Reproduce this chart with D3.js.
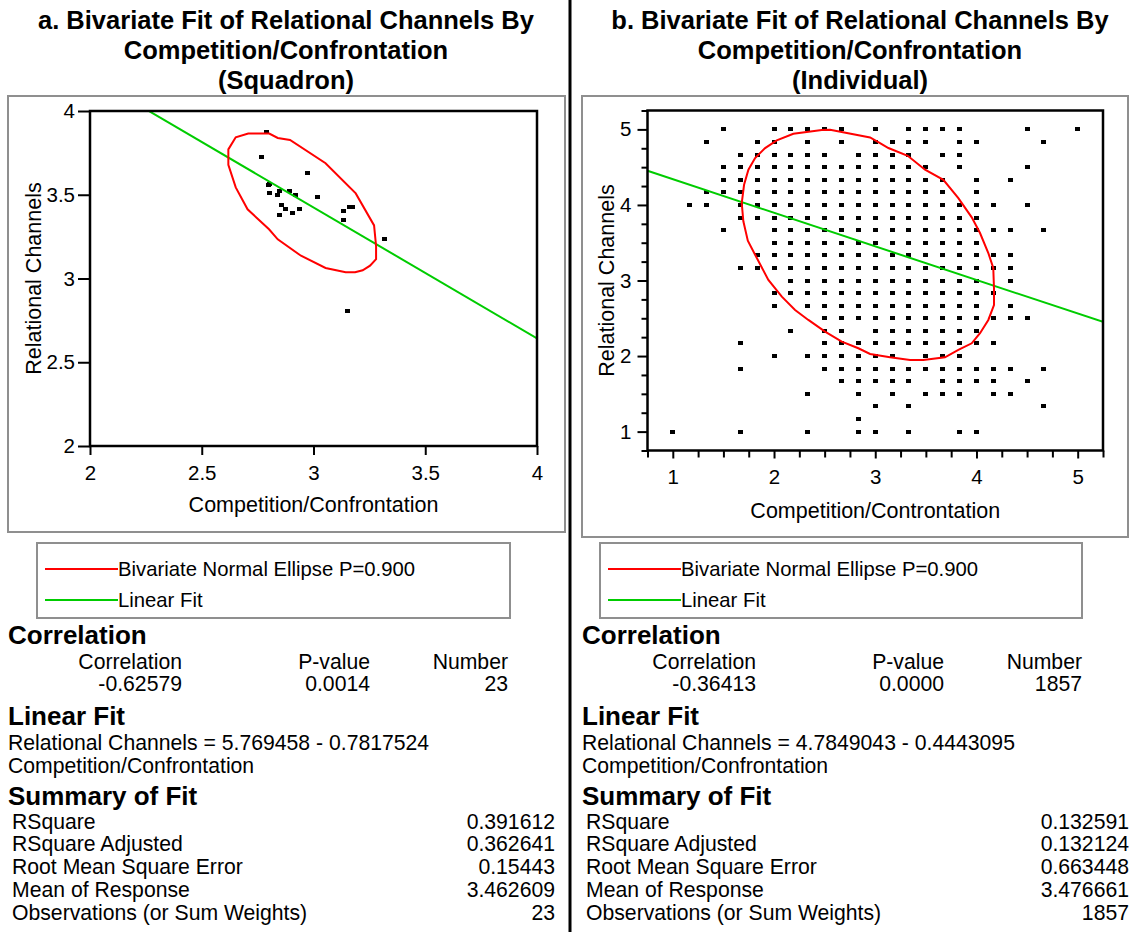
<!DOCTYPE html>
<html><head><meta charset="utf-8">
<script src="https://cdn.jsdelivr.net/npm/d3@7"></script>
<style>
body{margin:0;background:#fff;}
svg text{font-family:"Liberation Sans",Arial,Helvetica,sans-serif;fill:#000;}
</style></head><body>
<svg id="c" width="1130" height="932"></svg>
<script>
// ---------------- DATA ----------------
// Panel a (Squadron): 23 observations
const squadX = [2.79,2.768,2.974,2.802,2.805,2.850,2.840,2.893,2.920,3.018,2.857,2.875,2.938,2.849,2.904,3.135,3.160,3.175,3.135,3.318,3.153,2.80,2.85];
const squadY = [3.873,3.727,3.632,3.564,3.512,3.522,3.500,3.524,3.500,3.488,3.441,3.417,3.417,3.381,3.393,3.405,3.429,3.429,3.351,3.238,2.808,3.56,3.52];
// Bivariate normal ellipse (P=0.900) outline
const squadEllipse = [[2.619,3.771],[2.652,3.843],[2.708,3.865],[2.802,3.865],[2.840,3.839],[2.895,3.827],[3.054,3.688],[3.189,3.508],[3.271,3.317],[3.280,3.194],[3.280,3.116],[3.253,3.077],[3.220,3.049],[3.186,3.037],[3.144,3.037],[3.054,3.063],[2.944,3.136],[2.840,3.234],[2.801,3.294],[2.705,3.413],[2.652,3.544],[2.619,3.678]];
const squadFit = [5.769458, -0.7817524]; // intercept, slope

// Panel b (Individual): responses lie on a grid of sixths; each row = [y in sixths, x values in sixths]
const indivRows = [
  [30,[9,12,13,14,15,16,18,20,21,22,23,27,30]],
  [29,[8,11,12,14,16,18,19,20,21,23,24,28]],
  [28,[10,11,12,13,14,15,17,18,19,20,22,23]],
  [27,[9,10,11,12,13,14,15,16,17,18,19,20,21,23,27]],
  [26,[9,10,11,12,13,14,15,16,17,18,19,20,21,22,24,26]],
  [25,[8,9,10,11,12,13,14,15,16,17,18,19,20,21,22,24]],
  [24,[7,8,10,11,12,13,14,15,16,17,18,19,20,21,22,23,24,25,27]],
  [23,[10,11,12,13,14,15,16,17,18,19,20,21,22,23,24]],
  [22,[9,12,13,14,15,16,17,18,19,20,21,22,23,24,25,26,28]],
  [21,[12,13,14,15,16,17,18,19,20,21,22,23,24]],
  [20,[11,12,13,14,15,16,17,18,19,20,21,22,23,24,25,26]],
  [19,[10,11,12,13,14,15,16,17,18,19,20,21,22,23,24,25,26]],
  [18,[13,14,15,16,17,18,19,20,21,22,23,24,26]],
  [17,[12,13,14,15,16,17,18,19,20,21,22,23,24,25]],
  [16,[12,14,15,16,17,18,19,20,21,22,23,24,26]],
  [15,[15,16,17,18,19,20,21,22,23,24,25,26,27]],
  [14,[13,15,16,18,19,20,21,22,23,24]],
  [13,[10,15,16,17,18,19,20,21,22,23,24,25]],
  [12,[12,14,15,16,17,18,19,21,22,23]],
  [11,[10,15,16,17,18,19,20,21,22,23,24,25,26,28]],
  [10,[16,17,18,19,20,22,23,24,25,27]],
  [9,[14,17,19,21,22,23,25,26]],
  [8,[18,20,28]],
  [7,[17]],
  [6,[6,10,14,17,18,20,23,24]]
];
const indivEllipse = [[1.681,4.025],[1.704,4.267],[1.747,4.466],[1.813,4.620],[1.912,4.753],[2.027,4.854],[2.191,4.942],[2.472,4.991],[2.554,4.995],[2.949,4.894],[3.047,4.819],[3.130,4.753],[3.321,4.651],[3.492,4.466],[3.673,4.333],[3.821,4.091],[3.953,3.836],[4.035,3.628],[4.117,3.364],[4.166,3.165],[4.173,2.901],[4.173,2.676],[4.117,2.478],[4.035,2.302],[3.953,2.169],[3.821,2.081],[3.689,1.984],[3.475,1.948],[3.344,1.948],[3.146,1.984],[2.949,2.028],[2.833,2.103],[2.669,2.190],[2.504,2.323],[2.339,2.478],[2.208,2.610],[2.077,2.786],[1.944,3.007],[1.813,3.341],[1.741,3.526],[1.697,3.783]];
const indivFit = [4.7849043, -0.4443095];

// Axis ticks
const squadTicks = [2, 2.5, 3, 3.5, 4];
const indivMajorTicks = [1, 2, 3, 4, 5];
const indivMinorTicks = [0.75,1.25,1.5,1.75,2.25,2.5,2.75,3.25,3.5,3.75,4.25,4.5,4.75,5.25];

// Text content
const titlesA = ["a. Bivariate Fit of Relational Channels By","Competition/Confrontation","(Squadron)"];
const titlesB = ["b. Bivariate Fit of Relational Channels By","Competition/Confrontation","(Individual)"];
const corrHeaders = ["Correlation","P-value","Number"];
const corrA = ["-0.62579","0.0014","23"];
const corrB = ["-0.36413","0.0000","1857"];
const eqA = ["Relational Channels = 5.769458 - 0.7817524","Competition/Confrontation"];
const eqB = ["Relational Channels = 4.7849043 - 0.4443095","Competition/Confrontation"];
const summaryLabels = ["RSquare","RSquare Adjusted","Root Mean Square Error","Mean of Response","Observations (or Sum Weights)"];
const summaryA = ["0.391612","0.362641","0.15443","3.462609","23"];
const summaryB = ["0.132591","0.132124","0.663448","3.476661","1857"];
const legendLabels = ["Bivariate Normal Ellipse P=0.900","Linear Fit"];

// ---------------- DRAW ----------------
const svg = d3.select("#c");
const RED = "#ff0000", GREEN = "#00cc00", GRAY = "#8f8f8f";
const BODY = "21.2px", HEAD = "26px", TITLE = "25.5px", TICK = "20.5px", AXT = "21.5px", LEG = "20.3px";

function drawPanel(cfg){
  const g = svg.append("g");
  cfg.titles.forEach((t,i)=>{
    g.append("text").attr("x",cfg.cx).attr("y",20+30*i).attr("text-anchor","middle")
      .attr("dominant-baseline","central").style("font-weight","bold").style("font-size",TITLE).text(t);
  });
  g.append("rect").attr("x",cfg.box[0]).attr("y",cfg.box[1]).attr("width",cfg.box[2]).attr("height",cfg.box[3])
    .attr("fill","none").attr("stroke",GRAY).attr("stroke-width",2);
  const p = cfg.plot;
  const x = d3.scaleLinear().domain(cfg.xDomain).range([p.x0,p.x1]);
  const y = d3.scaleLinear().domain(cfg.yDomain).range([p.y1,p.y0]);
  const cid = "clip"+cfg.id;
  svg.append("clipPath").attr("id",cid).append("rect").attr("x",p.x0).attr("y",p.y0).attr("width",p.x1-p.x0).attr("height",p.y1-p.y0);
  const inner = g.append("g").attr("clip-path",`url(#${cid})`);
  inner.selectAll("rect.pt").data(cfg.points).join("rect").attr("class","pt")
    .attr("x",d=>Math.round(x(d[0])-cfg.dot[0]/2)).attr("y",d=>Math.round(y(d[1])-cfg.dot[1]/2))
    .attr("width",cfg.dot[0]).attr("height",cfg.dot[1]).attr("fill","#000");
  const line = d3.line().x(d=>x(d[0])).y(d=>y(d[1]));
  inner.append("path").attr("d",line(cfg.xDomain.map(v=>[v,cfg.fit[0]+cfg.fit[1]*v])))
    .attr("fill","none").attr("stroke",GREEN).attr("stroke-width",2);
  inner.append("path").attr("d",d3.line().x(d=>x(d[0])).y(d=>y(d[1])).curve(d3.curveLinearClosed)(cfg.ellipse))
    .attr("fill","none").attr("stroke",RED).attr("stroke-width",2);
  const xa = g.append("g").attr("transform",`translate(0,${p.y1})`)
    .call(d3.axisBottom(x).tickValues(cfg.xTicks).tickSize(cfg.tick).tickPadding(cfg.padX).tickFormat(d3.format("~g")));
  const ya = g.append("g").attr("transform",`translate(${p.x0},0)`)
    .call(d3.axisLeft(y).tickValues(cfg.yTicks).tickSize(cfg.tickY).tickPadding(cfg.padY).tickFormat(d3.format("~g")));
  [xa,ya].forEach(a=>{
    a.select(".domain").remove();
    a.selectAll(".tick line").attr("stroke","#000").attr("stroke-width",2);
    a.selectAll(".tick text").style("font-size",TICK).style("font-family",'"Liberation Sans",Arial,sans-serif').attr("fill","#000");
  });
  if(cfg.minor){
    g.append("g").attr("transform",`translate(0,${p.y1})`)
      .call(d3.axisBottom(x).tickValues(cfg.minor).tickSize(cfg.tick-1).tickFormat(""))
      .call(a=>{a.select(".domain").remove();a.selectAll("line").attr("stroke","#000").attr("stroke-width",2);});
    g.append("g").attr("transform",`translate(${p.x0},0)`)
      .call(d3.axisLeft(y).tickValues(cfg.minor).tickSize(6).tickFormat(""))
      .call(a=>{a.select(".domain").remove();a.selectAll("line").attr("stroke","#000").attr("stroke-width",2);});
  }
  g.append("rect").attr("x",p.x0).attr("y",p.y0).attr("width",p.x1-p.x0).attr("height",p.y1-p.y0)
    .attr("fill","none").attr("stroke","#000").attr("stroke-width",2.5);
  g.append("text").attr("x",(p.x0+p.x1)/2).attr("y",cfg.xTitleY).attr("text-anchor","middle")
    .attr("dominant-baseline","central").style("font-size",AXT).text(cfg.xTitle);
  g.append("text").attr("transform",`translate(${cfg.yTitleX},${(p.y0+p.y1)/2}) rotate(-90)`).attr("text-anchor","middle")
    .attr("dominant-baseline","central").style("font-size",AXT).text("Relational Channels");
  const L = cfg.legend;
  g.append("rect").attr("x",L.x).attr("y",543).attr("width",L.w).attr("height",75)
    .attr("fill","none").attr("stroke",GRAY).attr("stroke-width",2);
  [RED,GREEN].forEach((c,i)=>{
    const ly = 569+31*i;
    g.append("line").attr("x1",L.x+8).attr("x2",L.x+81).attr("y1",ly).attr("y2",ly).attr("stroke",c).attr("stroke-width",2);
    g.append("text").attr("x",L.x+81).attr("y",ly).attr("dominant-baseline","central").style("font-size",LEG).text(legendLabels[i]);
  });
  const o = cfg.off;
  const head = (t,yy)=>g.append("text").attr("x",8+o).attr("y",yy).attr("dominant-baseline","central")
    .style("font-weight","bold").style("font-size",HEAD).text(t);
  const txt = (t,xx,yy,anchor)=>g.append("text").attr("x",xx).attr("y",yy).attr("text-anchor",anchor||"start")
    .attr("dominant-baseline","central").style("font-size",BODY).text(t);
  head("Correlation",635);
  const colR = [182+o,370+o,508+o];
  corrHeaders.forEach((h,i)=>txt(h,colR[i],661,"end"));
  cfg.corr.forEach((v,i)=>txt(v,colR[i],683,"end"));
  head("Linear Fit",716);
  txt(cfg.eq[0],8+o,742); txt(cfg.eq[1],8+o,765);
  head("Summary of Fit",796);
  summaryLabels.forEach((l,i)=>{ txt(l,12+o,821+22.75*i); txt(cfg.summary[i],555+o,821+22.75*i,"end"); });
}

const squadPoints = squadX.map((v,i)=>[v,squadY[i]]);
const indivPoints = [];
indivRows.forEach(r=>r[1].forEach(xs=>indivPoints.push([xs/6, r[0]/6])));

drawPanel({id:"a",cx:286,titles:titlesA,box:[8,96,557,436],
  plot:{x0:90,x1:537,y0:111,y1:446},xDomain:[2,4],yDomain:[2,4],
  points:squadPoints,dot:[5,4],fit:squadFit,ellipse:squadEllipse,
  xTicks:squadTicks,yTicks:squadTicks,tick:9,tickY:12,padX:10,padY:3,
  xTitle:"Competition/Confrontation",xTitleY:505,yTitleX:34,
  legend:{x:37,w:473},off:0,corr:corrA,eq:eqA,summary:summaryA});

drawPanel({id:"b",cx:860,titles:titlesB,box:[582,96,546,441],
  plot:{x0:647.5,x1:1103,y0:110.5,y1:450.5},xDomain:[0.75,5.25],yDomain:[0.75,5.25],
  points:indivPoints,dot:[5,4],fit:indivFit,ellipse:indivEllipse,
  xTicks:indivMajorTicks,yTicks:indivMajorTicks,minor:indivMinorTicks,tick:8,tickY:10,padX:11,padY:6,
  xTitle:"Competition/Controntation",xTitleY:511,yTitleX:607,
  legend:{x:600,w:482},off:574,corr:corrB,eq:eqB,summary:summaryB});

svg.append("line").attr("x1",570).attr("x2",570).attr("y1",0).attr("y2",932).attr("stroke","#000").attr("stroke-width",3);
</script>
</body></html>
